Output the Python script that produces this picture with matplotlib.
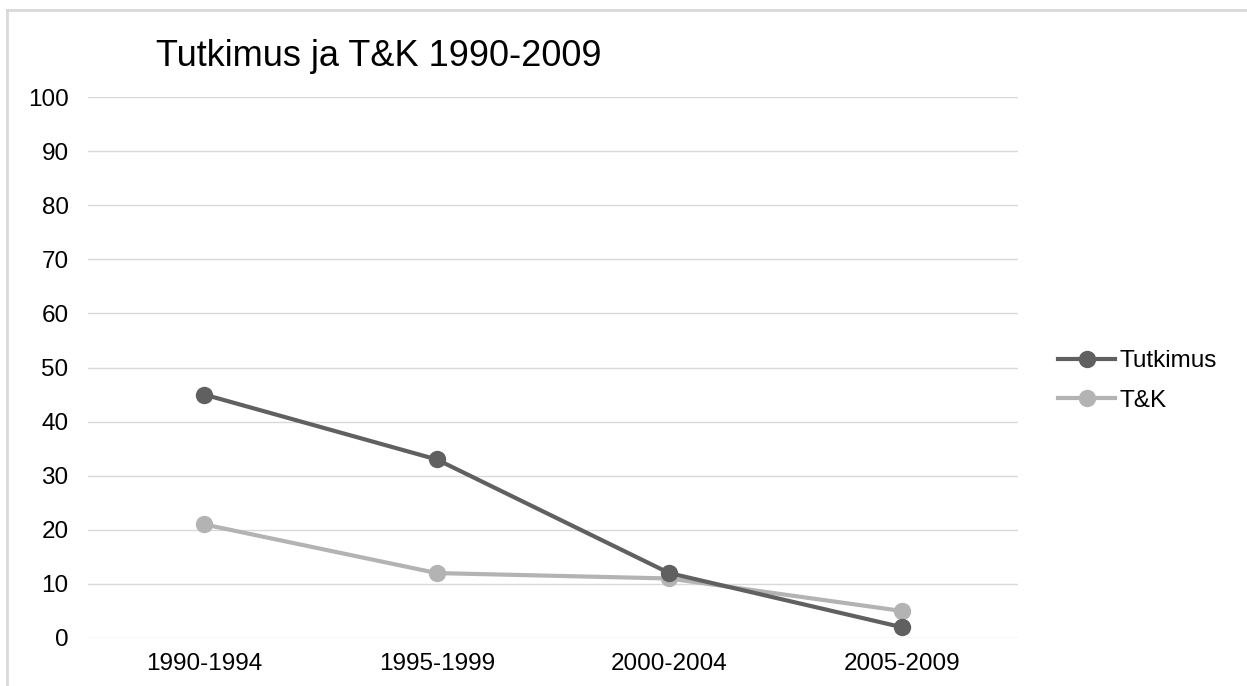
import matplotlib
matplotlib.use("Agg")
import matplotlib.pyplot as plt
from matplotlib.lines import Line2D

plt.rcParams['font.family'] = ['Liberation Sans', 'DejaVu Sans']

periods = ["1990-1994", "1995-1999", "2000-2004", "2005-2009"]
tutkimus = [45, 33, 12, 2]
tk = [21, 12, 11, 5]
y_ticks = list(range(0, 101, 10))

dark = "#606060"
light = "#b3b3b3"

fig = plt.figure(figsize=(12.47, 6.86), dpi=100)
ax = fig.add_axes([88 / 1247, 1 - 638 / 686, 930 / 1247, 541 / 686])

x = list(range(len(periods)))
ax.plot(x, tk, color=light, lw=3, marker="o", ms=11.5, label="T&K", zorder=3)
ax.plot(x, tutkimus, color=dark, lw=3, marker="o", ms=11.5, label="Tutkimus", zorder=4)

ax.set_xlim(-0.5, 3.5)
ax.set_ylim(0, 100)
ax.set_xticks(x)
ax.set_xticklabels(periods)
ax.set_yticks(y_ticks)
ax.tick_params(length=0, labelsize=17.5, colors="#000000")
ax.tick_params(axis="y", pad=14)
ax.tick_params(axis="x", pad=11)
ax.grid(axis="y", color="#d9d9d9", lw=1)
ax.set_axisbelow(True)
for s in ax.spines.values():
    s.set_visible(False)

fig.text(156 / 1247, 1 - 57 / 686, "Tutkimus ja T&K 1990-2009", fontsize=26,
         va="center", ha="left")

handles = [Line2D([], [], color=dark, lw=3, marker="o", ms=11.5),
           Line2D([], [], color=light, lw=3, marker="o", ms=11.5)]
fig.legend(handles, ["Tutkimus", "T&K"], loc="center left",
           bbox_to_anchor=(1058 / 1247, 1 - 381 / 686), frameon=False,
           borderpad=0, borderaxespad=0,
           fontsize=17.5, handlelength=2.35, handletextpad=0.2, labelspacing=0.7)

# outer chart border
fig.add_artist(Line2D([7 / 1247, 1.0], [1 - 10 / 686] * 2, color="#d9d9d9", lw=2))
fig.add_artist(Line2D([7 / 1247] * 2, [0, 1 - 10 / 686], color="#d9d9d9", lw=2))

fig.savefig("out.png", dpi=100)
